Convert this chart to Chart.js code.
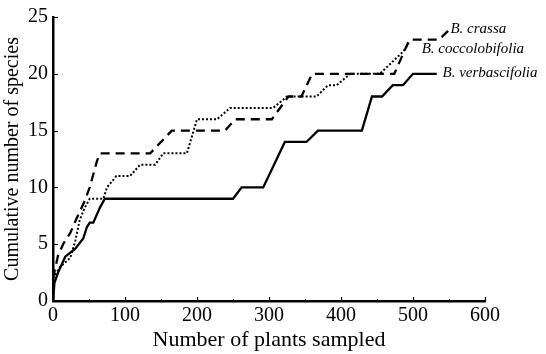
<!DOCTYPE html>
<html>
<head>
<meta charset="utf-8">
<script src="https://cdn.jsdelivr.net/npm/chart.js@4"></script>
<style>
html,body{margin:0;padding:0;background:#fff;}
canvas{display:block;}
</style>
</head>
<body>
<canvas id="c" width="546" height="354"></canvas>
<script>
// Series: Number of plants sampled (x) vs cumulative number of species (y)
const crassaX = [0, 7, 14, 24, 33, 44, 51, 61, 65, 135, 165, 239, 253, 304, 327, 345, 360, 474, 495, 536, 549];
const crassaY = [2, 4, 5, 6, 7.3, 8.8, 10, 12.3, 13, 13, 15, 15, 16, 16, 18, 18, 20, 20, 23, 23, 23.8];

const coccoX = [0, 10, 24, 31, 37, 44, 51, 70, 75, 88, 107, 121, 142, 153, 186, 200, 228, 246, 306, 325, 366, 382, 394, 413, 454, 487, 494];
const coccoY = [2, 3, 3.8, 5.3, 7.1, 8.2, 9, 9, 10, 11, 11, 12, 12, 13, 13, 16, 16, 17, 17, 18, 18, 19, 19, 20, 20, 22, 22.7];

const verbaX = [0, 2, 7, 17, 31, 42, 47, 51, 56, 65, 72, 250, 262, 292, 322, 352, 368, 429, 443, 457, 472, 486, 500, 533];
const verbaY = [0, 1.6, 2.5, 3.9, 4.6, 5.5, 6.5, 6.9, 6.9, 8.2, 9, 9, 10, 10, 14, 14, 15, 15, 18, 18, 19, 19, 20, 20];

const seriesNames = ['B. crassa', 'B. coccolobifolia', 'B. verbascifolia'];
// label anchors (data units)
const labelX = [552, 512, 541];
const labelY = [23.9, 22.15, 20.1];

const xTicks = [0, 100, 200, 300, 400, 500, 600];
const yTicks = [0, 5, 10, 15, 20, 25];

const serif = '"Liberation Serif", "Times New Roman", serif';

function pts(xs, ys) { return xs.map((x, i) => ({x: x, y: ys[i]})); }

const innerTicks = {
  id: 'innerTicks',
  afterDatasetsDraw(chart) {
    const ctx = chart.ctx, xs = chart.scales.x, ys = chart.scales.y;
    const a = chart.chartArea;
    ctx.save();
    ctx.strokeStyle = '#000';
    ctx.lineWidth = 1.2;
    ctx.beginPath();
    for (let v = 0; v <= 600; v += 50) {
      const px = Math.round(xs.getPixelForValue(v)) + 0.5;
      const len = (v % 100 === 0) ? 4 : 2;
      ctx.moveTo(px, a.bottom);
      ctx.lineTo(px, a.bottom - len);
    }
    yTicks.forEach(v => {
      const py = Math.round(ys.getPixelForValue(v)) + 0.5;
      ctx.moveTo(a.left, py);
      ctx.lineTo(a.left + 5, py);
    });
    ctx.stroke();
    // series labels
    ctx.fillStyle = '#000';
    ctx.font = 'italic 15px ' + serif;
    ctx.textAlign = 'left';
    ctx.textBaseline = 'middle';
    seriesNames.forEach((n, i) => {
      ctx.fillText(n, xs.getPixelForValue(labelX[i]), ys.getPixelForValue(labelY[i]));
    });
    ctx.restore();
  }
};

new Chart(document.getElementById('c'), {
  type: 'scatter',
  data: {
    datasets: [
      { label: seriesNames[0], data: pts(crassaX, crassaY), showLine: true, borderColor: '#000', borderWidth: 2.3, borderDash: [9, 6], pointRadius: 0, fill: false, tension: 0 },
      { label: seriesNames[1], data: pts(coccoX, coccoY), showLine: true, borderColor: '#000', borderWidth: 2, borderDash: [2, 2], pointRadius: 0, fill: false, tension: 0 },
      { label: seriesNames[2], data: pts(verbaX, verbaY), showLine: true, borderColor: '#000', borderWidth: 2.3, pointRadius: 0, fill: false, tension: 0 }
    ]
  },
  options: {
    responsive: false,
    animation: false,
    devicePixelRatio: 1,
    layout: { padding: { left: 0, right: 61, top: 15, bottom: 0 } },
    plugins: { legend: { display: false }, tooltip: { enabled: false } },
    scales: {
      x: {
        type: 'linear', min: 0, max: 600,
        afterBuildTicks: s => { s.ticks = xTicks.map(v => ({value: v})); },
        afterFit: s => { s.height = 53; },
        ticks: { color: '#000', font: { family: serif, size: 20 }, padding: 3, maxRotation: 0 },
        grid: { display: true, drawOnChartArea: false, drawTicks: false },
        border: { display: true, color: '#000', width: 2.5 },
        title: { display: true, text: 'Number of plants sampled', color: '#000', font: { family: serif, size: 22 }, padding: { top: 0, bottom: 1 } }
      },
      y: {
        type: 'linear', min: 0, max: 25,
        afterBuildTicks: s => { s.ticks = yTicks.map(v => ({value: v})); },
        afterFit: s => { s.width = 53; },
        ticks: { color: '#000', font: { family: serif, size: 20 }, padding: 5 },
        grid: { display: true, drawOnChartArea: false, drawTicks: false },
        border: { display: true, color: '#000', width: 2.5 },
        title: { display: true, text: 'Cumulative number of species', color: '#000', font: { family: serif, size: 20 }, padding: { top: 1, bottom: 0 } }
      }
    }
  },
  plugins: [innerTicks]
});
</script>
</body>
</html>
